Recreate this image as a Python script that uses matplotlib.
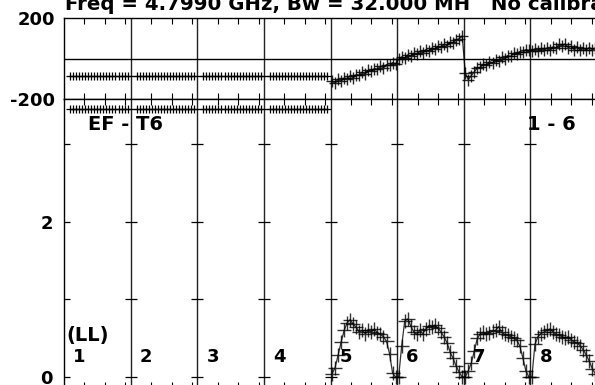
import matplotlib.pyplot as plt

plt.rcParams['font.family'] = ['DejaVu Sans']
plt.rcParams['font.weight'] = 'bold'

# channel layout: 8 panels (IFs), each PW channel-units wide
PW = 22
n_panels = 8

# panels 1-4: flat phase and a high flat amplitude row
flat_offsets = [2, 3, 4, 5, 6, 7, 8, 9, 10, 11, 12, 13, 14, 15, 16, 17, 18, 19, 20, 21]
flat_phase = [-86, -86, -86, -86, -86, -86, -86, -86, -86, -86,
              -86, -86, -86, -86, -86, -86, -86, -86, -86, -86]
flat_amp = [3.46, 3.46, 3.46, 3.46, 3.46, 3.46, 3.46, 3.46, 3.46, 3.46,
            3.46, 3.46, 3.46, 3.46, 3.46, 3.46, 3.46, 3.46, 3.46, 3.46]

# panels 5-8: 22 channels each
chan_offsets = [0.5, 1.5, 2.5, 3.5, 4.5, 5.5, 6.5, 7.5, 8.5, 9.5, 10.5,
                11.5, 12.5, 13.5, 14.5, 15.5, 16.5, 17.5, 18.5, 19.5, 20.5, 21.5]
phase5 = [-110, -122, -102, -112, -96, -100, -84, -96, -80, -82, -68,
          -76, -58, -64, -50, -52, -38, -46, -30, -34, -20, -26]
phase6 = [-4, 8, 2, 18, 12, 26, 20, 36, 28, 44, 38,
          52, 46, 60, 56, 70, 64, 80, 78, 92, 98, 112]
phase7 = [-72, -104, -84, -66, -46, -44, -28, -34, -16, -22, -6,
          -14, 6, -2, 14, 10, 26, 20, 34, 30, 44, 40]
phase8 = [38, 48, 36, 50, 42, 52, 40, 58, 52, 70, 62,
          72, 54, 60, 44, 56, 40, 52, 42, 54, 44, 50]
amp5 = [0.04, 0.12, 0.28, 0.45, 0.60, 0.70, 0.74, 0.68, 0.64, 0.58, 0.60,
        0.56, 0.60, 0.58, 0.62, 0.57, 0.55, 0.52, 0.46, 0.30, 0.05, 0.0]
amp6 = [0.0, 0.40, 0.72, 0.75, 0.66, 0.58, 0.55, 0.60, 0.56, 0.62, 0.66,
        0.64, 0.67, 0.63, 0.58, 0.52, 0.44, 0.32, 0.24, 0.14, 0.06, 0.0]
amp7 = [0.0, 0.08, 0.18, 0.34, 0.50, 0.56, 0.58, 0.55, 0.57, 0.59, 0.60,
        0.65, 0.58, 0.55, 0.54, 0.52, 0.50, 0.48, 0.40, 0.25, 0.08, 0.0]
amp8 = [0.0, 0.42, 0.52, 0.56, 0.58, 0.60, 0.62, 0.58, 0.55, 0.54, 0.52,
        0.50, 0.52, 0.48, 0.45, 0.44, 0.40, 0.35, 0.28, 0.20, 0.10, 0.04]

title = "Freq = 4.7990 GHz, Bw = 32.000 MH   No calibra"
panel_labels = ['1', '2', '3', '4', '5', '6', '7', '8']

# build x/y series
x_flat, p_flat, a_flat = [], [], []
for p in range(4):
    for k in range(len(flat_offsets)):
        x_flat.append(p * PW + flat_offsets[k])
        p_flat.append(flat_phase[k])
        a_flat.append(flat_amp[k])

x_good, p_good, a_good = [], [], []
for p, (ph, am) in enumerate([(phase5, amp5), (phase6, amp6), (phase7, amp7), (phase8, amp8)]):
    for k in range(len(chan_offsets)):
        x_good.append((p + 4) * PW + chan_offsets[k])
        p_good.append(ph[k])
        a_good.append(am[k])

W, H = 595, 385
fig = plt.figure(figsize=(W / 100, H / 100), dpi=100)
axp = fig.add_axes([64 / W, 1 - 99 / H, 533 / W, 81 / H])
axa = fig.add_axes([64 / W, 1 - 388 / H, 533 / W, 289 / H])

xmax = PW * n_panels
minor = [p * PW + f for p in range(n_panels) for f in (6.75, 13.5, 20.25)]

for ax in (axp, axa):
    ax.set_xlim(0, xmax)
    for s in ax.spines.values():
        s.set_linewidth(1.0)
    for p in range(1, n_panels):
        ax.axvline(p * PW, color='#222222', lw=1.0)
    ax.set_xticks(minor)
    ax.tick_params(axis='x', direction='in', top=True, bottom=True, length=4,
                   width=0.8, labelbottom=False)

FS = 13

# phase panel
axp.set_ylim(-200, 200)
axp.axhline(0, color='black', lw=1.0)
axp.set_yticks([200, -200])
axp.set_yticklabels(['200', '-200'])
axp.tick_params(axis='y', length=0, pad=6.5, labelsize=FS)
axp.plot(x_flat, p_flat, color='black', lw=0.9, marker='+', ms=6, mew=0.9)
axp.plot(x_good, p_good, color='black', lw=0.9, marker='+', ms=9, mew=1.0, alpha=0.85)

# amplitude panel
axa.set_ylim(-0.142, 3.587)
axa.set_yticks([0, 1, 2, 3])
axa.set_yticklabels(['0', '', '2', ''])
axa.tick_params(axis='y', direction='in', length=4.3, width=0.9, pad=8, labelsize=FS)
bx = [p * PW for p in range(1, n_panels) for _ in range(4)]
by = [v for _ in range(1, n_panels) for v in (0, 1, 2, 3)]
axa.plot(bx, by, ls='none', marker='_', ms=8.6, mew=0.9, color='black')
axa.plot(x_flat, a_flat, color='black', lw=0.9, marker='+', ms=6, mew=0.9, clip_on=False)
axa.plot(x_good, a_good, color='black', lw=0.9, marker='+', ms=10, mew=1.0, alpha=0.8)

for p in range(n_panels):
    axa.text(p * PW + 3.0, 0.26, panel_labels[p], fontsize=FS, fontweight='bold',
             ha='left', va='center')

fig.text(88 / W, 1 - 124 / H, 'EF - T6', fontsize=14, fontweight='bold', va='center')
fig.text(527 / W, 1 - 124 / H, '1 - 6', fontsize=14, fontweight='bold', va='center')
fig.text(66 / W, 1 - 336 / H, '(LL)', fontsize=14, fontweight='bold', va='center')
fig.text(65 / W, 1 - 10 / H, title, fontsize=14.2, fontweight='bold', va='baseline')

fig.savefig('out.png', dpi=100)
